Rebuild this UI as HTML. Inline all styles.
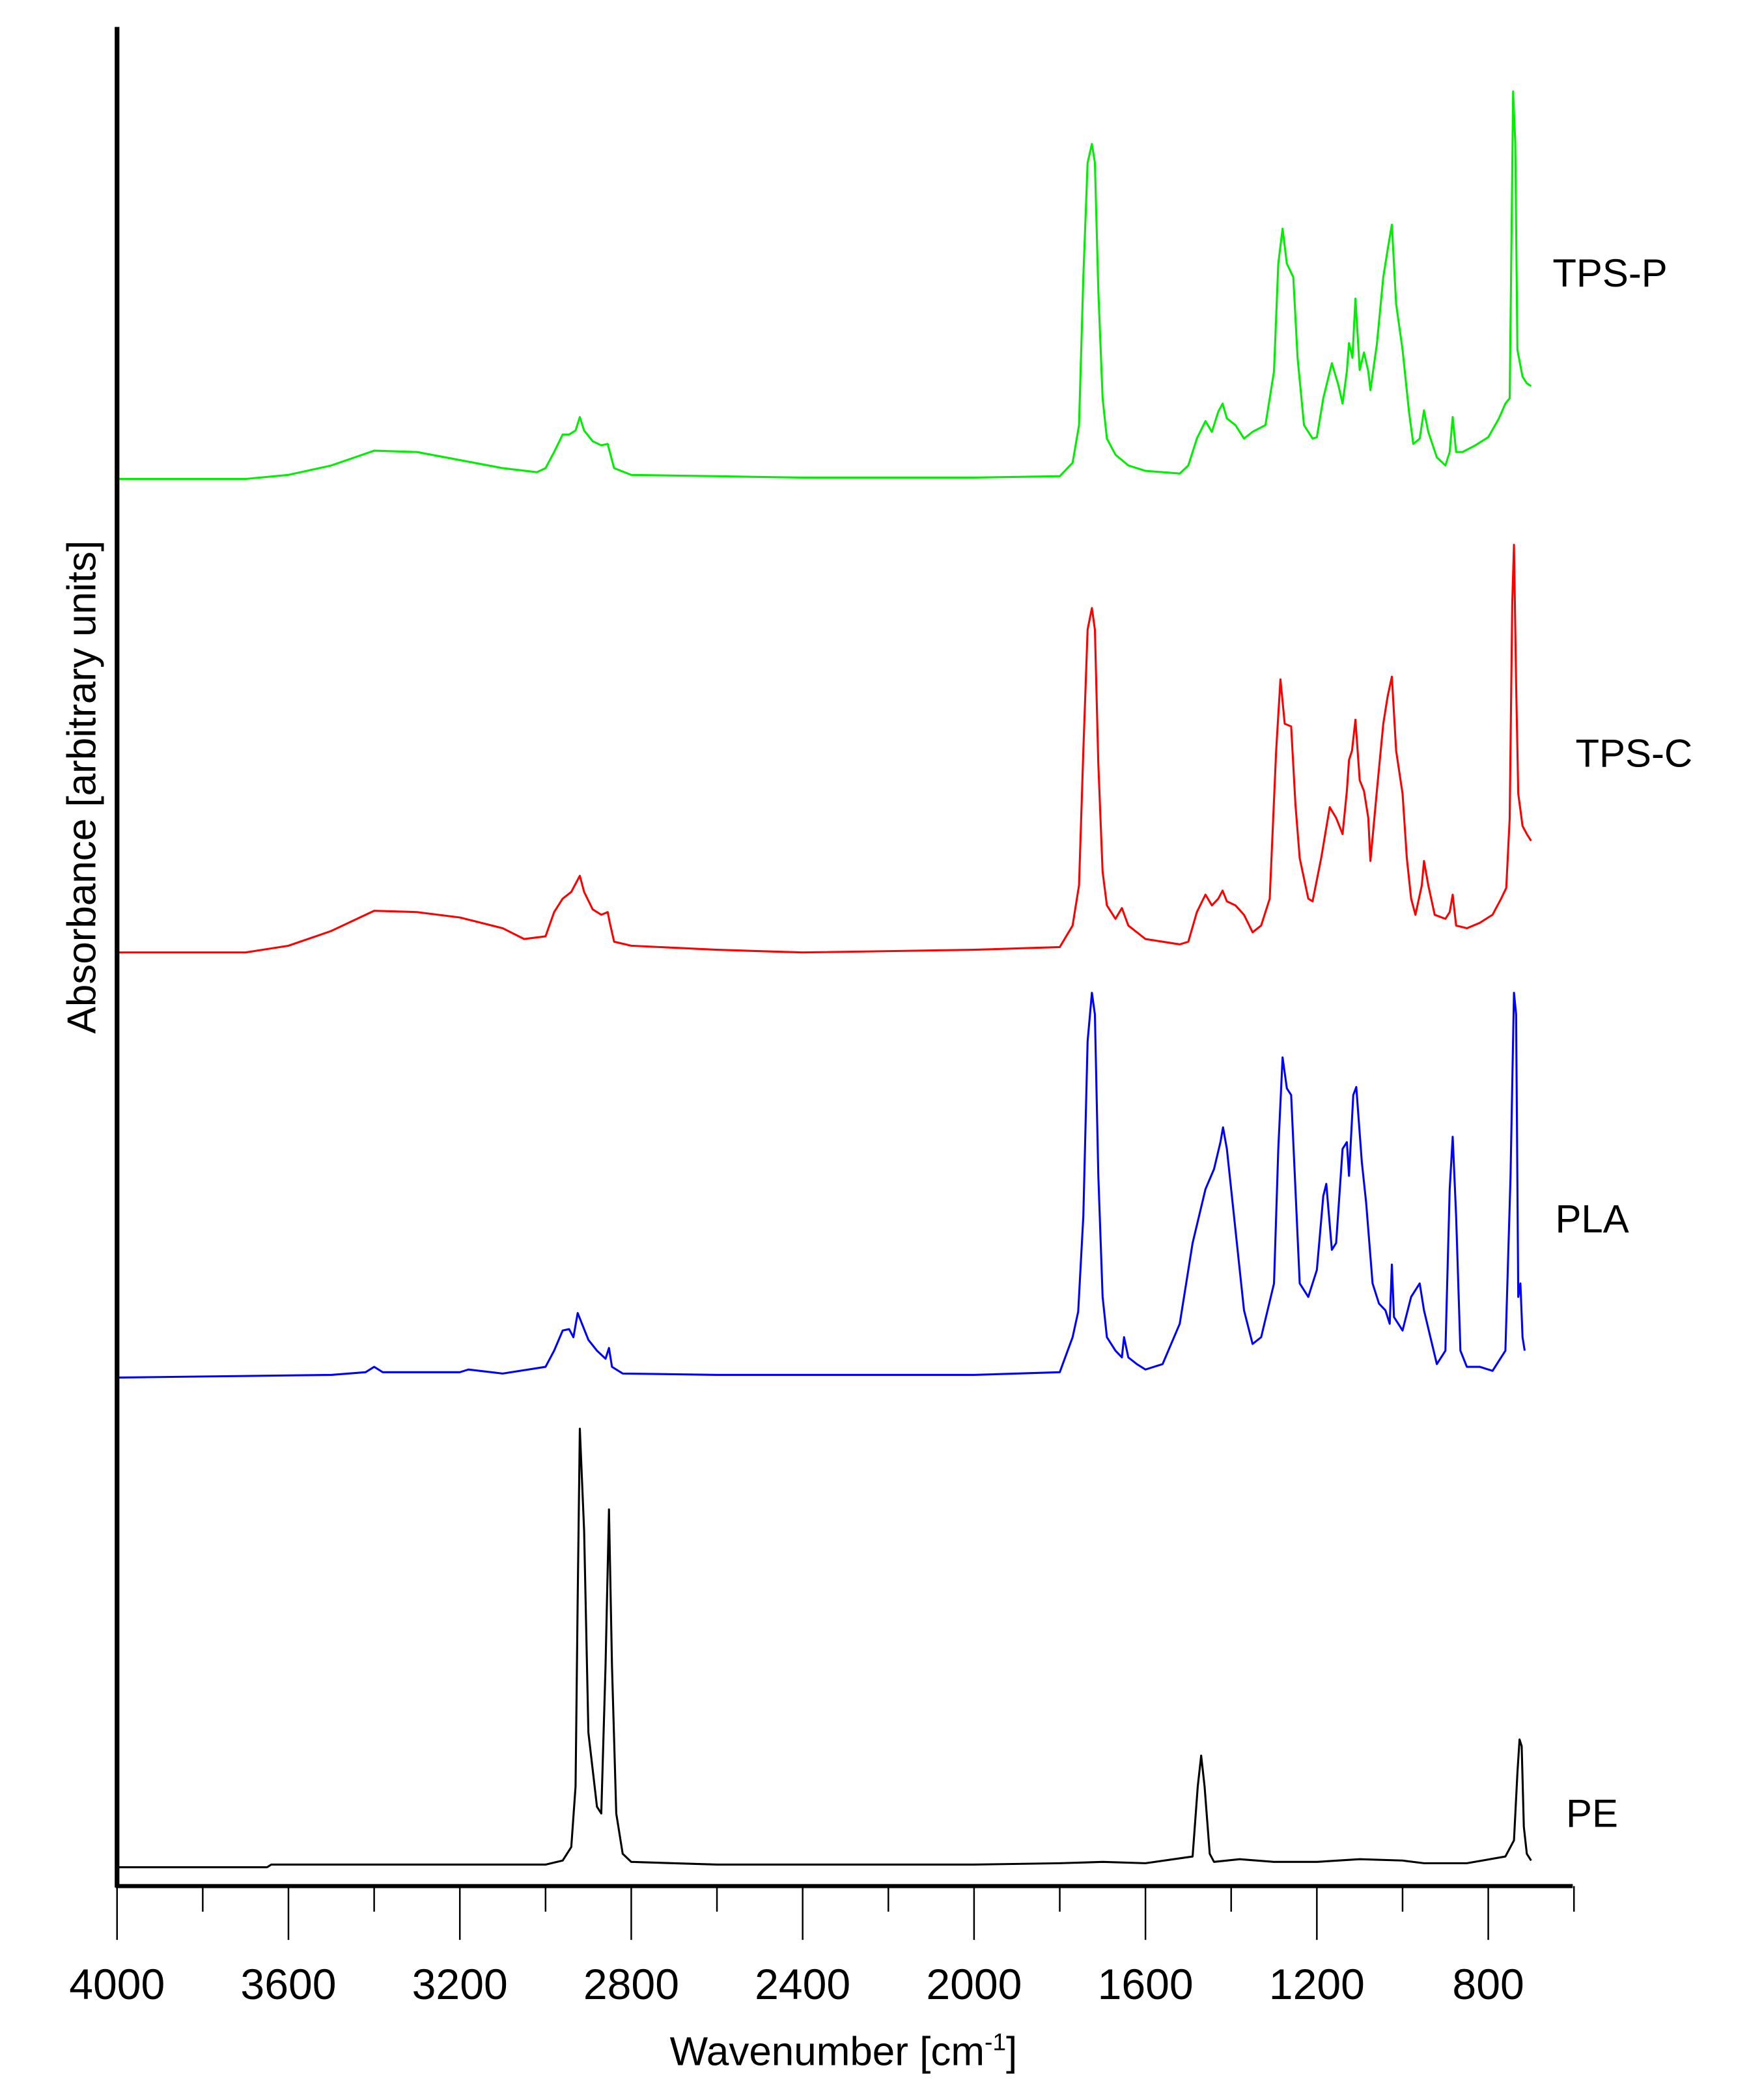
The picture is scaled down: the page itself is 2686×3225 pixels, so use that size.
<!DOCTYPE html>
<html><head><meta charset="utf-8"><style>
html,body{margin:0;padding:0;background:#fff}
svg{display:block}
text{font-family:"Liberation Sans",sans-serif;fill:#000}
</style></head><body>
<svg id="chart" width="2686" height="3225" viewBox="0 0 1300 1561" preserveAspectRatio="none" xmlns="http://www.w3.org/2000/svg">
<g id="plot"></g>
</svg>
<script>
// Tick labels
const xTicks = [4000,3600,3200,2800,2400,2000,1600,1200,800];
const xMinorTicks = [3800,3400,3000,2600,2200,1800,1400,1000,600];
const seriesNames = ["TPS-P","TPS-C","PLA","PE"];
const seriesColors = ["#00ee00","#ff0000","#0000ff","#000000"];
const seriesBaselines = [356,708,1024,1388];
const labelPos = [[1154,213],[1171,570],[1156,916],[1164,1358]];
// Series values: [wavenumber, absorbance above baseline]
const tpsP = [[4000,0],[3700,0],[3600,3],[3500,10],[3400,21],[3300,20],[3200,14],[3100,8],[3020,5],[3000,8],[2980,20],[2960,33],[2945,33],[2930,36],[2920,46],[2910,36],[2890,28],[2870,25],[2855,26],[2850,20],[2840,8],[2800,3],[2600,2],[2400,1],[2000,1],[1800,2],[1770,12],[1755,40],[1745,150],[1735,235],[1725,249],[1718,235],[1710,140],[1700,60],[1690,30],[1670,18],[1640,10],[1600,6],[1520,4],[1500,10],[1480,30],[1460,43],[1445,35],[1430,50],[1420,56],[1410,45],[1390,40],[1370,30],[1350,35],[1320,40],[1300,80],[1290,160],[1280,186],[1270,160],[1255,150],[1245,90],[1230,40],[1210,30],[1200,31],[1185,60],[1165,86],[1150,70],[1140,56],[1130,80],[1125,101],[1117,90],[1110,134],[1100,81],[1090,94],[1080,80],[1075,66],[1060,100],[1045,150],[1035,170],[1025,189],[1015,130],[1000,96],[985,50],[975,26],[960,30],[950,51],[940,35],[920,16],[900,10],[890,20],[883,46],[875,20],[860,20],[830,25],[800,31],[775,45],[760,56],[750,60],[745,200],[742,288],[737,250],[732,96],[720,76],[710,71],[700,69]];
const tpsC = [[4000,0],[3700,0],[3600,5],[3500,16],[3400,31],[3300,30],[3200,26],[3100,18],[3050,10],[3000,12],[2980,30],[2960,40],[2940,45],[2920,57],[2910,45],[2890,32],[2870,28],[2855,30],[2850,22],[2840,8],[2800,5],[2600,2],[2400,0],[2000,2],[1800,4],[1770,20],[1755,50],[1745,150],[1735,240],[1725,256],[1718,240],[1710,140],[1700,60],[1690,35],[1670,25],[1655,33],[1640,20],[1600,10],[1560,8],[1520,6],[1500,8],[1480,30],[1460,43],[1445,35],[1430,40],[1420,46],[1410,38],[1390,35],[1370,28],[1350,15],[1330,20],[1310,40],[1295,150],[1285,203],[1275,170],[1260,168],[1250,110],[1240,70],[1220,40],[1210,38],[1190,70],[1170,108],[1155,100],[1140,88],[1130,120],[1125,143],[1118,150],[1110,173],[1100,128],[1090,120],[1080,100],[1075,68],[1060,120],[1045,170],[1035,190],[1025,205],[1015,150],[1000,118],[990,70],[980,40],[970,28],[955,50],[950,68],[940,50],[925,28],[900,25],[890,30],[883,43],[875,20],[850,18],[820,22],[790,28],[770,40],[758,48],[750,100],[744,260],[740,303],[735,200],[730,118],[720,94],[710,88],[700,83]];
const pla = [[4000,0],[3750,1],[3500,2],[3420,4],[3400,8],[3380,4],[3200,4],[3180,6],[3100,3],[3000,8],[2980,20],[2960,35],[2945,36],[2935,30],[2925,48],[2915,40],[2900,28],[2880,20],[2860,14],[2852,22],[2845,8],[2820,3],[2600,2],[2000,2],[1800,4],[1770,30],[1757,49],[1745,120],[1735,250],[1725,286],[1718,270],[1710,150],[1700,60],[1690,30],[1670,20],[1655,15],[1650,30],[1640,15],[1620,10],[1600,6],[1560,10],[1520,40],[1490,100],[1460,140],[1440,155],[1425,175],[1419,186],[1410,170],[1390,110],[1370,50],[1350,25],[1330,30],[1300,70],[1290,170],[1280,238],[1270,215],[1260,210],[1250,140],[1240,70],[1220,60],[1200,80],[1185,135],[1178,144],[1165,95],[1155,100],[1140,170],[1130,175],[1125,150],[1115,210],[1108,216],[1095,160],[1085,130],[1070,70],[1055,55],[1040,50],[1030,40],[1025,84],[1020,45],[1000,35],[980,60],[960,70],[950,50],[935,30],[920,10],[900,20],[890,140],[883,179],[875,120],[865,20],[850,8],[820,8],[790,5],[760,20],[748,150],[740,286],[735,270],[730,60],[725,70],[720,30],[715,20]];
const pe = [[4000,0],[3650,0],[3640,2],[3000,2],[2960,5],[2940,15],[2930,60],[2925,200],[2920,326],[2910,250],[2900,100],[2880,45],[2870,40],[2860,150],[2852,266],[2845,150],[2835,40],[2820,10],[2800,4],[2600,2],[2000,2],[1800,3],[1700,4],[1600,3],[1490,8],[1478,60],[1470,83],[1462,60],[1450,10],[1440,4],[1380,6],[1300,4],[1200,4],[1100,6],[1000,5],[950,3],[850,3],[760,8],[740,20],[732,70],[727,95],[722,90],[717,30],[710,10],[700,5]];
const allSeries = [tpsP, tpsC, pla, pe];

const NS = "http://www.w3.org/2000/svg";
const plot = document.getElementById('plot');
function xScale(w){ return 87 + (4000 - w) * 0.3185; }
function yScale(i, v){ return seriesBaselines[i] - v; }
function mk(tag, attrs){ const e = document.createElementNS(NS, tag); for (const k in attrs) e.setAttribute(k, attrs[k]); plot.appendChild(e); return e; }

allSeries.forEach((s, i) => {
  const d = s.map((p, j) => (j ? 'L' : 'M') + xScale(p[0]).toFixed(2) + ',' + yScale(i, p[1]).toFixed(2)).join(' ');
  const path = mk('path', {d: d, fill: 'none', stroke: seriesColors[i], 'stroke-width': 1.5, 'stroke-linejoin': 'round'});
  
  
  const t = mk('text', {x: labelPos[i][0], y: labelPos[i][1], 'font-size': 29});
  t.textContent = seriesNames[i];
  
  
});

// axes
const yAxis = mk('line', {x1: 87, y1: 20, x2: 87, y2: 1403, stroke: '#000', 'stroke-width': 3.5});


const xAxis = mk('line', {x1: 86, y1: 1402, x2: 1169, y2: 1402, stroke: '#000', 'stroke-width': 3});


xTicks.forEach(w => {
  const l = mk('line', {x1: xScale(w), y1: 1402, x2: xScale(w), y2: 1442, stroke: '#000', 'stroke-width': 1.2});
  
  
  const t = mk('text', {x: xScale(w), y: 1486, 'font-size': 32, 'text-anchor': 'middle'});
  t.textContent = w;
  
  
});
xMinorTicks.forEach(w => {
  const l = mk('line', {x1: xScale(w), y1: 1402, x2: xScale(w), y2: 1421, stroke: '#000', 'stroke-width': 1.2});
  
  
});
const xt = mk('text', {x: 627, y: 1535, 'font-size': 30, 'text-anchor': 'middle'});
xt.innerHTML = 'Wavenumber [cm<tspan font-size="18" dy="-11">-1</tspan><tspan dy="11">]</tspan>';


const yt = mk('text', {x: 0, y: 0, 'font-size': 30, 'text-anchor': 'middle', transform: 'translate(71,585) rotate(-90)'});
yt.textContent = 'Absorbance [arbitrary units]';


</script>
</body></html>
